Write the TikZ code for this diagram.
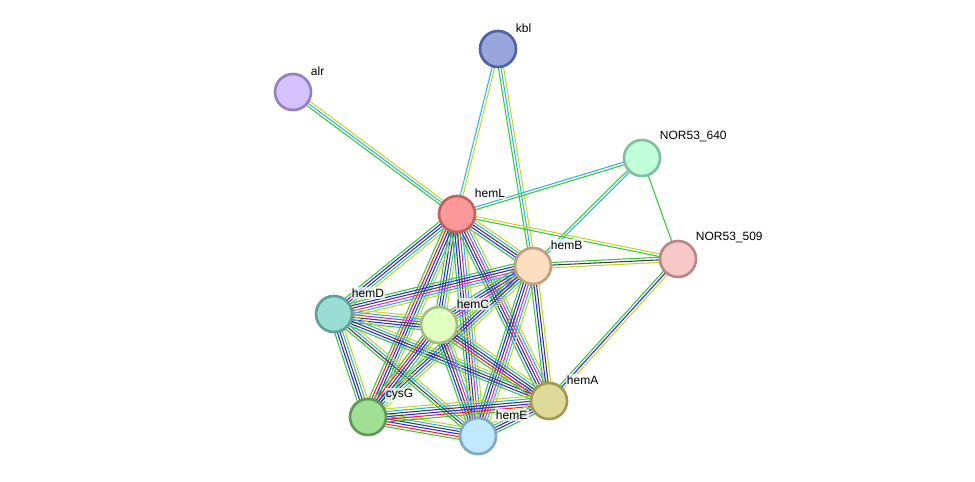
\documentclass[tikz,border=0pt]{standalone}
\usepackage{fontspec}
\setmainfont{Liberation Sans}
\usetikzlibrary{calc}

% evidence colours
\definecolor{egreen}{RGB}{56,200,56}
\definecolor{ecyan}{RGB}{48,180,220}
\definecolor{eyellow}{RGB}{196,214,40}
\definecolor{eblue}{RGB}{40,40,255}
\definecolor{eblack}{RGB}{64,64,64}
\definecolor{emagenta}{RGB}{220,40,220}
\definecolor{ered}{RGB}{255,30,30}

\pgfdeclarelayer{background}
\pgfsetlayers{background,main}

\tikzset{
  protein/.style={circle, minimum size=27pt, inner sep=0pt, line width=2pt},
  lab/.style={anchor=south west, xshift=2pt, yshift=1pt, inner sep=1pt,
    font=\fontsize{9}{10}\selectfont, fill=white, fill opacity=0.7, text opacity=1},
  evidence/.style={line width=0.8pt}
}

% parallel evidence lines between two proteins
\newcount\nlines
\newcommand{\edge}[3]{%
  \global\nlines=0
  \foreach \c in {#3}{\global\advance\nlines by 1}
  \foreach \c [count=\i] in {#3}{
    \pgfmathsetmacro{\off}{(\i-(\the\nlines+1)/2)*1.95}
    \draw[evidence,\c] ($(#1)!\off pt!90:(#2)$) -- ($(#2)!\off pt!-90:(#1)$);
  }}

\begin{document}
\begin{tikzpicture}[x=0.75pt, y=-0.75pt]

%---------------------------------------
% Proteins
%---------------------------------------
\node[protein, fill={rgb,255:red,153;green,166;blue,222}, draw={rgb,255:red,83;green,97;blue,160},
  label={[lab]north east:kbl}] (kbl) at (498,49) {};
\node[protein, fill={rgb,255:red,213;green,194;blue,255}, draw={rgb,255:red,149;green,128;blue,192},
  label={[lab]north east:alr}] (alr) at (293,92) {};
\node[protein, fill={rgb,255:red,192;green,255;blue,216}, draw={rgb,255:red,128;green,192;blue,160},
  label={[lab]north east:NOR53\_640}] (n640) at (642,158) {};
\node[protein, fill={rgb,255:red,255;green,153;blue,153}, draw={rgb,255:red,192;green,96;blue,96},
  label={[lab]north east:hemL}] (hemL) at (457,214) {};
\node[protein, fill={rgb,255:red,248;green,200;blue,200}, draw={rgb,255:red,184;green,136;blue,136},
  label={[lab]north east:NOR53\_509}] (n509) at (678,259) {};
\node[protein, fill={rgb,255:red,253;green,223;blue,192}, draw={rgb,255:red,192;green,160;blue,128},
  label={[lab]north east:hemB}] (hemB) at (533,266) {};
\node[protein, fill={rgb,255:red,153;green,221;blue,212}, draw={rgb,255:red,96;green,160;blue,152},
  label={[lab]north east:hemD}] (hemD) at (334,314) {};
\node[protein, fill={rgb,255:red,224;green,255;blue,192}, draw={rgb,255:red,160;green,192;blue,128},
  label={[lab]north east:hemC}] (hemC) at (439,325) {};
\node[protein, fill={rgb,255:red,222;green,218;blue,153}, draw={rgb,255:red,160;green,154;blue,80},
  label={[lab]north east:hemA}] (hemA) at (549,401) {};
\node[protein, fill={rgb,255:red,160;green,223;blue,148}, draw={rgb,255:red,94;green,154;blue,85},
  label={[lab]north east:cysG}] (cysG) at (368,417) {};
\node[protein, fill={rgb,255:red,192;green,232;blue,255}, draw={rgb,255:red,128;green,168;blue,192},
  label={[lab]north east:hemE}] (hemE) at (478,436) {};

%---------------------------------------
% Interactions
%---------------------------------------
\begin{pgfonlayer}{background}
  \fill[white] (0,0) rectangle (975,482);

  % outer partners
  \edge{alr}{hemL}{egreen,ecyan,eyellow}
  \edge{kbl}{hemL}{ecyan,eyellow}
  \edge{kbl}{hemB}{egreen,ecyan,eyellow}
  \edge{hemL}{n640}{egreen,ecyan}
  \edge{hemB}{n640}{ecyan,egreen}
  \edge{n640}{n509}{egreen}
  \edge{hemL}{n509}{egreen,eyellow}
  \edge{hemB}{n509}{eyellow,eblack,egreen}
  \edge{n509}{hemA}{egreen,eblue,eyellow}

  % heme cluster
  \edge{hemL}{hemB}{egreen,eblue,eblack,ecyan,eyellow}
  \edge{hemL}{hemD}{egreen,eblue,eblack,ecyan,eyellow}
  \edge{hemL}{hemC}{egreen,eblue,eblack,ecyan,eyellow}
  \edge{hemL}{cysG}{egreen,ered,eblue,eblack,ecyan,eyellow}
  \edge{hemL}{hemE}{egreen,eblue,eblack,emagenta,ecyan,eyellow}
  \edge{hemL}{hemA}{egreen,eblue,eblack,emagenta,ecyan,eyellow}
  \edge{hemB}{hemD}{egreen,eblue,eblack,emagenta,ecyan,eyellow}
  \edge{hemB}{hemC}{egreen,eblue,eblack,emagenta,ecyan,eyellow}
  \edge{hemB}{cysG}{egreen,eblue,eblack,ecyan,eyellow}
  \edge{hemB}{hemE}{egreen,eblue,eblack,emagenta,ecyan,eyellow}
  \edge{hemB}{hemA}{egreen,eblue,eblack,eyellow}
  \edge{hemD}{hemC}{egreen,eblue,eblack,emagenta,ecyan,eyellow}
  \edge{hemD}{cysG}{egreen,eblue,eblack,ecyan,eyellow}
  \edge{hemD}{hemE}{egreen,eblack,ecyan,eyellow}
  \edge{hemD}{hemA}{egreen,eblue,eblack,ecyan,eyellow}
  \edge{hemC}{cysG}{egreen,ered,eblue,eblack,ecyan,eyellow}
  \edge{hemC}{hemE}{egreen,eblue,eblack,emagenta,ecyan,eyellow}
  \edge{hemC}{hemA}{egreen,ered,eblue,eblack,ecyan,eyellow}
  \edge{cysG}{hemE}{egreen,ered,eblue,eblack,ecyan,eyellow}
  \edge{cysG}{hemA}{egreen,ered,eblue,eblack,ecyan,eyellow}
  \edge{hemE}{hemA}{egreen,eblue,eblack,ecyan,eyellow}
\end{pgfonlayer}

\end{tikzpicture}
\end{document}
